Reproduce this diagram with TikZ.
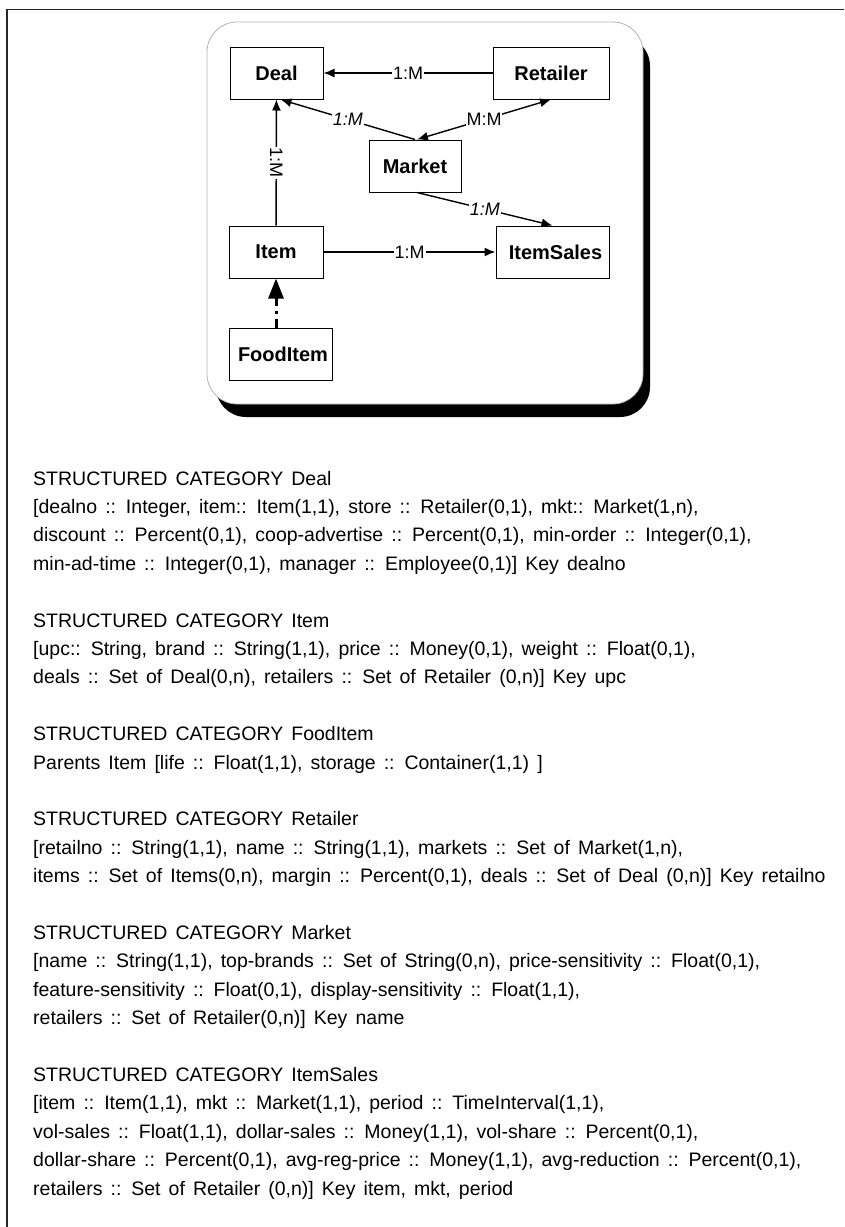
\documentclass[tikz,border=0pt]{standalone}
\usepackage{fontspec}
\setmainfont{Liberation Sans}
\usetikzlibrary{arrows.meta, positioning, calc}

\newcommand{\listfont}{\fontsize{19.5}{24}\selectfont\spaceskip=8.1pt plus 1pt\relax}

\tikzset{
  entity/.style={draw, line width=1pt, inner sep=0pt, minimum height=52pt,
    font=\fontsize{20}{24}\selectfont\bfseries},
  card/.style={fill=white, inner sep=1pt, font=\fontsize{18}{20}\selectfont},
  rel/.style={line width=1.4pt, -{Latex[length=11pt,width=9pt]}},
  listline/.style={anchor=base west, inner sep=0pt, font=\listfont},
}

\begin{document}
\begin{tikzpicture}[x=1pt, y=-1pt]
  \useasboundingbox (0,0) rectangle (844,1227);

  % page frame
  \draw[line width=1.6pt, black!85] (7,1227) -- (7,9.5) -- (844,9.5);

  % panel with shadow
  \fill[black, rounded corners=30pt] (216,36) rectangle (650,417);
  \draw[gray!60, fill=white, line width=0.8pt, rounded corners=30pt] (207,22) rectangle (643,404);

  % categories
  \node[entity, minimum width=93pt]  (deal)   at (276.5,73)  {Deal};
  \node[entity, minimum width=116pt] (ret)    at (551,73)    {Retailer};
  \node[entity, minimum width=92pt]  (mkt)    at (415,166)   {Market};
  \node[entity, minimum width=94pt]  (item)   at (276,252)   {Item};
  \node[entity, minimum width=113pt] (isales) at (552.5,252) {\hspace*{6pt}ItemSales};
  \node[entity, minimum width=103pt] (food)   at (280.5,354.5) {\hspace*{5pt}FoodItem};

  % relationships
  \draw[rel] (ret) -- node[card] {1:M} (deal);
  \draw[rel] (mkt.north) -- node[card, font=\fontsize{18}{20}\selectfont\itshape] {1:M} ([xshift=4pt]deal.south);
  \draw[rel, {Latex[length=11pt,width=9pt]}-{Latex[length=11pt,width=9pt]}] ([xshift=2pt]mkt.north) -- node[card] {M:M} (ret.south);
  \draw[rel] (item) -- node[card, rotate=-90] {1:M} (deal);
  \draw[rel] ([xshift=2pt]mkt.south) -- node[card, font=\fontsize{18}{20}\selectfont\itshape] {1:M} (isales.north);
  \draw[rel] (item) -- node[card] {1:M} (isales);
  \draw[line width=3pt, dash pattern=on 9pt off 5pt on 3pt off 5pt,
    -{Triangle[length=20pt,width=15pt]}] (item.south |- food.north) -- (item.south);

  % structured category listing
  \node[listline] (deal0) at (33,485)   {STRUCTURED CATEGORY Deal};
  \node[listline] (deal1) at (33,513.4) {[dealno :: Integer, item:: Item(1,1), store :: Retailer(0,1), mkt:: Market(1,n),};
  \node[listline] (deal2) at (33,541.8) {discount :: Percent(0,1), coop-advertise :: Percent(0,1), min-order :: Integer(0,1),};
  \node[listline] (deal3) at (33,570.2) {min-ad-time :: Integer(0,1), manager :: Employee(0,1)] Key dealno};

  \node[listline] (item0) at (33,627)   {STRUCTURED CATEGORY Item};
  \node[listline] (item1) at (33,655.4) {[upc:: String, brand :: String(1,1), price :: Money(0,1), weight :: Float(0,1),};
  \node[listline] (item2) at (33,683.8) {deals :: Set of Deal(0,n), retailers :: Set of Retailer (0,n)] Key upc};

  \node[listline] (food0) at (33,740.6) {STRUCTURED CATEGORY FoodItem};
  \node[listline] (food1) at (33,769)   {Parents Item [life :: Float(1,1), storage :: Container(1,1) ]};

  \node[listline] (ret0) at (33,825.8)  {STRUCTURED CATEGORY Retailer};
  \node[listline] (ret1) at (33,854.2)  {[retailno :: String(1,1), name :: String(1,1), markets :: Set of Market(1,n),};
  \node[listline] (ret2) at (33,882.6)  {items :: Set of Items(0,n), margin :: Percent(0,1), deals :: Set of Deal (0,n)] Key retailno};

  \node[listline] (mkt0) at (33,939.4)  {STRUCTURED CATEGORY Market};
  \node[listline] (mkt1) at (33,967.8)  {[name :: String(1,1), top-brands :: Set of String(0,n), price-sensitivity :: Float(0,1),};
  \node[listline] (mkt2) at (33,996.2)  {feature-sensitivity :: Float(0,1), display-sensitivity :: Float(1,1),};
  \node[listline] (mkt3) at (33,1024.6) {retailers :: Set of Retailer(0,n)] Key name};

  \node[listline] (isales0) at (33,1081.4) {STRUCTURED CATEGORY ItemSales};
  \node[listline] (isales1) at (33,1109.8) {[item :: Item(1,1), mkt :: Market(1,1), period :: TimeInterval(1,1),};
  \node[listline] (isales2) at (33,1138.2) {vol-sales :: Float(1,1), dollar-sales :: Money(1,1), vol-share :: Percent(0,1),};
  \node[listline] (isales3) at (33,1166.6) {dollar-share :: Percent(0,1), avg-reg-price :: Money(1,1), avg-reduction :: Percent(0,1),};
  \node[listline] (isales4) at (33,1195)   {retailers :: Set of Retailer (0,n)] Key item, mkt, period};
\end{tikzpicture}
\end{document}
